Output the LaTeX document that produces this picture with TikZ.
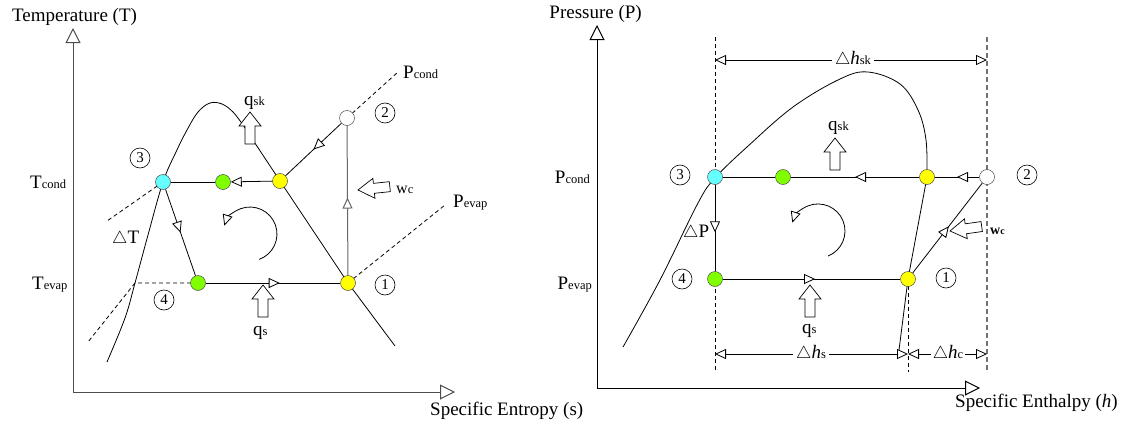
\documentclass[tikz,border=0pt]{standalone}
\usepackage{fontspec}
\setmainfont{Liberation Serif}
\usetikzlibrary{arrows.meta,decorations.markings}
\definecolor{stcyan}{RGB}{102,255,255}
\definecolor{stgreen}{RGB}{128,255,0}
\definecolor{styellow}{RGB}{255,255,0}
\newcommand\smsub[1]{{\fontsize{12.5}{12.5}\selectfont #1}}
\newcommand\dtri{{\fontsize{16}{16}\selectfont$\triangle$}}
\begin{document}
\begin{tikzpicture}[x=1pt,y=-1pt,
  Tri/.tip={Triangle[fill=white,length=11pt,width=10pt]},
  AxTip/.tip={Triangle[fill=white,length=15pt,width=15pt]},
  axis/.style={line width=1pt,draw=black!70},
  curve/.style={line width=0.8pt},
  isoline/.style={line width=0.8pt,dash pattern=on 4pt off 3pt},
  stnode/.style={circle,draw=black!70,line width=0.5pt,minimum size=15pt,inner sep=0pt},
  cyc/.style={line width=0.8pt},
  midarrow/.style={postaction={decorate},decoration={markings,mark=at position #1 with {\arrow{Tri}}}},
  midarrow/.default=0.5,
  num/.style={circle,draw,line width=0.6pt,minimum size=20pt,inner sep=0pt,font=\fontsize{15}{15}\selectfont},
  lbl/.style={inner sep=0pt,font=\fontsize{19}{19}\selectfont},
  dimlbl/.style={inner sep=3pt,font=\fontsize{19}{19}\selectfont},
  blockup/.pic={\draw[line width=0.7pt,fill=white] (0,0) -- (11,14) -- (5,14) -- (5,32) -- (-5,32) -- (-5,14) -- (-11,14) -- cycle;},
  blockleft/.pic={\draw[line width=0.7pt,fill=white] (0,0) -- (16,-10) -- (16,-5) -- (32,-5) -- (32,5) -- (16,5) -- (16,10) -- cycle;}
]
\useasboundingbox (0,0) rectangle (1123,423);

% ================= LEFT: T-s diagram =================
\coordinate (LO) at (73,392);
\coordinate (LY) at (73,28);
\coordinate (LX) at (455,392);
\draw[axis,-{AxTip}] (LO) -- (LY);
\draw[axis,-{AxTip}] (LO) -- (LX);
\node[lbl,anchor=base west] (tT) at (12,21.5) {Temperature (T)};
\node[lbl,anchor=base west] (tS) at (430,415) {Specific Entropy (s)};

\coordinate (l3) at (163,182);
\coordinate (lg) at (223,182);
\coordinate (ly) at (280,181);
\coordinate (l2) at (347,118);
\coordinate (l1) at (348,283);
\coordinate (l4) at (198,283);

% saturation dome
\draw[curve] plot[smooth,tension=0.6] coordinates {(107,362) (125,318) (135,283) (148,235) (163,182) (176,152) (187,130) (198,112) (210,103) (222,104) (233,112) (243,125)} -- (ly) -- (l1) -- (395,346);
% isobars
\draw[isoline] (l2) -- (398,72);
\draw[isoline] (l3) -- (107,221);
\draw[isoline] (l1) -- (445,205);
\draw[isoline] (l4) -- (135,283) -- (88,342);

% state points
\node[stnode,fill=stcyan] (L3) at (l3) {};
\node[stnode,fill=stgreen] (LG) at (lg) {};
\node[stnode,fill=styellow] (LY1) at (ly) {};
\node[stnode,fill=white] (L2) at (l2) {};
\node[stnode,fill=styellow] (L1) at (l1) {};
\node[stnode,fill=stgreen] (L4) at (l4) {};

% cycle
\draw[cyc] (L3) -- (LG);
\draw[cyc,-{Tri}] (LY1) -- (LG);
\draw[cyc,midarrow] (L2) -- (LY1);
\draw[cyc,draw=black!60,line width=1pt,midarrow=0.52] (L1) -- (L2);
\draw[cyc,midarrow] (L3) -- (L4);
\draw[cyc,midarrow=0.55] (L4) -- (L1);

% rotation arrow
\draw[curve,-{Tri}] (259.2,259.4) arc[start angle=70,end angle=-162,radius=27];

% heat / work arrows
\pic at (250,112) {blockup};
\pic at (263,285) {blockup};
\pic[rotate=6] at (358,190) {blockleft};
\node[lbl,anchor=base west] (lqsk) at (244,105) {q\smsub{sk}};
\node[lbl,anchor=base west] (lqs) at (253,335) {q\smsub{s}};
\node[lbl,anchor=base west,font=\fontsize{16}{16}\selectfont] (lwc) at (396,193) {w\smsub{c}};

% labels
\node[lbl,anchor=base west] (lTc) at (30,188) {T\smsub{cond}};
\node[lbl,anchor=base west] (lTe) at (32,289) {T\smsub{evap}};
\node[lbl,anchor=base west] (lPc) at (403,78) {P\smsub{cond}};
\node[lbl,anchor=base west] (lPe) at (453,207) {P\smsub{evap}};
\node[lbl,anchor=base west] (ldT) at (112,243) {\dtri T};
\node[num] (n3l) at (140,158) {3};
\node[num] (n2l) at (385,113) {2};
\node[num] (n1l) at (385,285) {1};
\node[num] (n4l) at (164,300) {4};

% ================= RIGHT: P-h diagram =================
\coordinate (RO) at (597,388);
\coordinate (RY) at (597,25);
\coordinate (RX) at (980,388);
\draw[line width=1pt,-{AxTip}] (RO) -- (RY);
\draw[line width=1pt,-{AxTip}] (RO) -- (RX);
\node[lbl,anchor=base east] (tP) at (642,18) {Pressure (P)};
\node[lbl,anchor=base west] (tH) at (955,407) {Specific Enthalpy (\textit{h})};

\coordinate (r3) at (715,177);
\coordinate (rg) at (783,177);
\coordinate (ry) at (927,177);
\coordinate (r2) at (987,177);
\coordinate (r4) at (715,279);
\coordinate (r1) at (908,279);

% reference lines
\draw[line width=0.7pt,dash pattern=on 4pt off 3pt] (715,37) -- (715,372);
\draw[line width=0.7pt,dash pattern=on 4pt off 3pt] (r1) -- (908,372);
\draw[line width=1.3pt,draw=black!55,dash pattern=on 5pt off 3pt] (987,37) -- (987,372);

% saturation dome
\draw[curve] plot[smooth,tension=0.6] coordinates {(623,347) (660,280) (698,203) (715,178) (747,147) (793,107) (840,79) (868,72) (900,84) (918,110) (926,140) (927,177)} -- (r1) -- (899,350);

% state points
\node[stnode,fill=stcyan] (R3) at (r3) {};
\node[stnode,fill=stgreen] (RG) at (rg) {};
\node[stnode,fill=styellow] (RY1) at (ry) {};
\node[stnode,fill=white] (R2) at (r2) {};
\node[stnode,fill=stgreen] (R4) at (r4) {};
\node[stnode,fill=styellow] (R1) at (r1) {};

% cycle
\draw[cyc,midarrow] (R2) -- (RY1);
\draw[cyc,midarrow] (RY1) -- (RG);
\draw[cyc] (RG) -- (R3);
\draw[cyc,midarrow=0.55] (R3) -- (R4);
\draw[cyc,midarrow=0.52] (R4) -- (R1);
\draw[cyc,midarrow=0.52] (R1) -- (R2);

% rotation arrow
\draw[curve,-{Tri}] (828.1,256.0) arc[start angle=68,end angle=-162,radius=27];

% heat / work arrows
\pic at (835,138) {blockup};
\pic at (810,285) {blockup};
\pic[rotate=8] at (950,231) {blockleft};
\node[lbl,anchor=base west] (rqsk) at (828,130) {q\smsub{sk}};
\node[lbl,anchor=base west] (rqs) at (802,333) {q\smsub{s}};
\node[lbl,anchor=base west,font=\fontsize{14}{14}\selectfont\bfseries] (rwc) at (990,234) {w{\fontsize{10}{10}\selectfont c}};

% labels
\node[lbl,anchor=base east] (rPc) at (590,183) {P\smsub{cond}};
\node[lbl,anchor=base east] (rPe) at (592,289) {P\smsub{evap}};
\node[lbl,anchor=base west] (rdP) at (683,237) {\dtri P};
\node[num] (n3r) at (680,175) {3};
\node[num] (n2r) at (1027,175) {2};
\node[num] (n4r) at (682,279) {4};
\node[num] (n1r) at (946,278) {1};

% enthalpy differences
\coordinate (dk1) at (715,60);
\coordinate (dk2) at (987,60);
\node[dimlbl] (dhsk) at (853,60) {\dtri\textit{h}\smsub{sk}};
\draw[cyc,-{Tri}] (dhsk) -- (dk1);
\draw[cyc,-{Tri}] (dhsk) -- (dk2);

\coordinate (ds1) at (715,354);
\coordinate (ds2) at (908,354);
\coordinate (dc2) at (987,354);
\node[dimlbl] (dhs) at (811,354) {\dtri\textit{h}\smsub{s}};
\node[dimlbl,inner sep=2pt] (dhc) at (948,354) {\dtri\textit{h}\smsub{c}};
\draw[cyc,-{Tri}] (dhs) -- (ds1);
\draw[cyc,-{Tri}] (dhs) -- (ds2);
\draw[cyc,-{Tri}] (dhc) -- (ds2);
\draw[cyc,-{Tri}] (dhc) -- (dc2);
\end{tikzpicture}
\end{document}
